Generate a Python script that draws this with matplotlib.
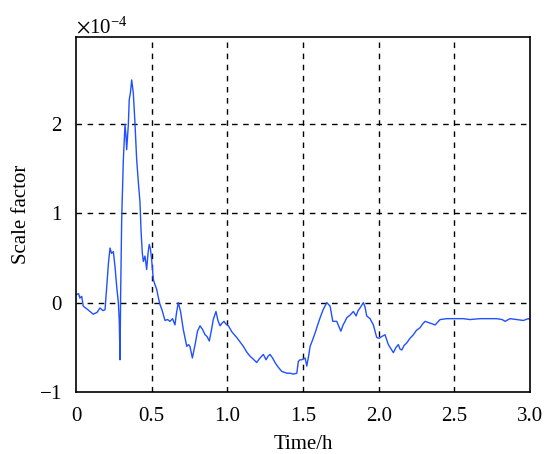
import numpy as np
import matplotlib
matplotlib.use('Agg')
import matplotlib.pyplot as plt
from matplotlib.ticker import ScalarFormatter

# time in hours, scale factor in units of 1e-4
time_h = [0.005, 0.017, 0.026, 0.038, 0.048, 0.079, 0.114, 0.139, 0.159, 0.178,
          0.192, 0.203, 0.215, 0.225, 0.235, 0.247, 0.258, 0.269, 0.280, 0.286,
          0.291, 0.295, 0.302, 0.313, 0.324, 0.331, 0.335, 0.346, 0.352, 0.360,
          0.368, 0.379, 0.390, 0.401, 0.412, 0.423, 0.430, 0.438, 0.445, 0.456,
          0.467, 0.476, 0.484, 0.492, 0.500, 0.511, 0.522, 0.533, 0.545, 0.555,
          0.568, 0.588, 0.605, 0.621, 0.638, 0.654, 0.664, 0.676, 0.691, 0.709,
          0.721, 0.732, 0.744, 0.753, 0.769, 0.787, 0.803, 0.820, 0.836, 0.853,
          0.866, 0.881, 0.896, 0.907, 0.925, 0.938, 0.952, 0.965, 0.978, 0.991,
          1.007, 1.031, 1.062, 1.084, 1.106, 1.127, 1.150, 1.170, 1.194, 1.216,
          1.238, 1.256, 1.269, 1.282, 1.299, 1.315, 1.335, 1.360, 1.393, 1.415,
          1.436, 1.459, 1.469, 1.480, 1.492, 1.514, 1.525, 1.537, 1.547, 1.563,
          1.580, 1.597, 1.613, 1.633, 1.657, 1.679, 1.697, 1.723, 1.750, 1.765,
          1.778, 1.789, 1.811, 1.833, 1.851, 1.864, 1.877, 1.899, 1.910, 1.921,
          1.943, 1.965, 1.976, 1.987, 2.003, 2.020, 2.042, 2.064, 2.082, 2.097,
          2.115, 2.130, 2.141, 2.153, 2.168, 2.186, 2.207, 2.229, 2.250, 2.274,
          2.290, 2.307, 2.323, 2.340, 2.356, 2.373, 2.389, 2.406, 2.450, 2.516,
          2.560, 2.604, 2.670, 2.736, 2.780, 2.816, 2.835, 2.868, 2.913, 2.956,
          2.989, 3.000]
scale_e4 = [0.09, 0.10, 0.05, 0.07, -0.04, -0.08, -0.13, -0.11, -0.06, -0.09,
            -0.08, 0.18, 0.45, 0.61, 0.55, 0.57, 0.40, 0.18, 0.00, -0.20,
            -0.64, 0.07, 0.93, 1.60, 1.99, 1.85, 1.71, 1.99, 2.27, 2.35,
            2.49, 2.34, 2.00, 1.60, 1.35, 1.12, 0.80, 0.56, 0.46, 0.52,
            0.37, 0.55, 0.65, 0.60, 0.48, 0.26, 0.20, 0.15, 0.05, -0.02,
            -0.08, -0.20, -0.19, -0.21, -0.18, -0.25, -0.12, 0.00, -0.10, -0.30,
            -0.40, -0.49, -0.47, -0.49, -0.62, -0.47, -0.32, -0.26, -0.30, -0.36,
            -0.38, -0.43, -0.30, -0.19, -0.10, -0.20, -0.26, -0.23, -0.21, -0.24,
            -0.26, -0.33, -0.39, -0.44, -0.49, -0.55, -0.60, -0.63, -0.67, -0.62,
            -0.58, -0.64, -0.60, -0.58, -0.62, -0.67, -0.72, -0.77, -0.79, -0.79,
            -0.80, -0.79, -0.66, -0.64, -0.64, -0.62, -0.71, -0.60, -0.49, -0.42,
            -0.34, -0.25, -0.17, -0.08, 0.00, -0.04, -0.21, -0.21, -0.32, -0.25,
            -0.21, -0.17, -0.14, -0.10, -0.15, -0.09, -0.06, 0.00, -0.05, -0.15,
            -0.18, -0.25, -0.32, -0.39, -0.40, -0.38, -0.36, -0.47, -0.52, -0.56,
            -0.50, -0.47, -0.52, -0.53, -0.48, -0.45, -0.40, -0.36, -0.31, -0.28,
            -0.24, -0.21, -0.22, -0.23, -0.24, -0.25, -0.22, -0.19, -0.18, -0.18,
            -0.18, -0.19, -0.18, -0.18, -0.18, -0.19, -0.21, -0.18, -0.19, -0.20,
            -0.18, -0.19]

xticks = [0, 0.5, 1.0, 1.5, 2.0, 2.5, 3.0]
xtick_labels = ['0', '0.5', '1.0', '1.5', '2.0', '2.5', '3.0']
yticks = [-1, 0, 1, 2]

plt.rcParams['font.family'] = ['Liberation Serif', 'DejaVu Serif']
plt.rcParams['mathtext.fontset'] = 'stix'
plt.rcParams['font.size'] = 15

fig = plt.figure(figsize=(5.45, 4.54), dpi=100)
ax = fig.add_axes([0.1394, 0.1366, 0.8331, 0.7819])

ax.plot(np.array(time_h), np.array(scale_e4) * 1e-4, color='#2050ff', lw=1.0)

ax.set_xlim(0, 3.0)
ax.set_ylim(-1e-4, 2.97e-4)
ax.set_xticks(xticks)
ax.set_xticklabels(xtick_labels)
ax.set_yticks([v * 1e-4 for v in yticks])
fmt = ScalarFormatter(useMathText=True)
fmt.set_powerlimits((0, 0))
ax.yaxis.set_major_formatter(fmt)
ax.yaxis.get_offset_text().set_fontsize(15)

ax.tick_params(axis='x', length=0, pad=11)
ax.tick_params(axis='y', length=0, pad=10)
ax.grid(True, color='black', linestyle=(0, (4, 4)), linewidth=1.0)
# no grid line on the axes frame itself
ax.xaxis.get_gridlines()[0].set_visible(False)
ax.xaxis.get_gridlines()[-1].set_visible(False)
ax.yaxis.get_gridlines()[0].set_visible(False)
for s in ax.spines.values():
    s.set_linewidth(1.2)

ax.set_xlabel('Time/h', labelpad=6)
ax.set_ylabel('Scale factor', labelpad=6)

fig.savefig('out.png', dpi=100)
